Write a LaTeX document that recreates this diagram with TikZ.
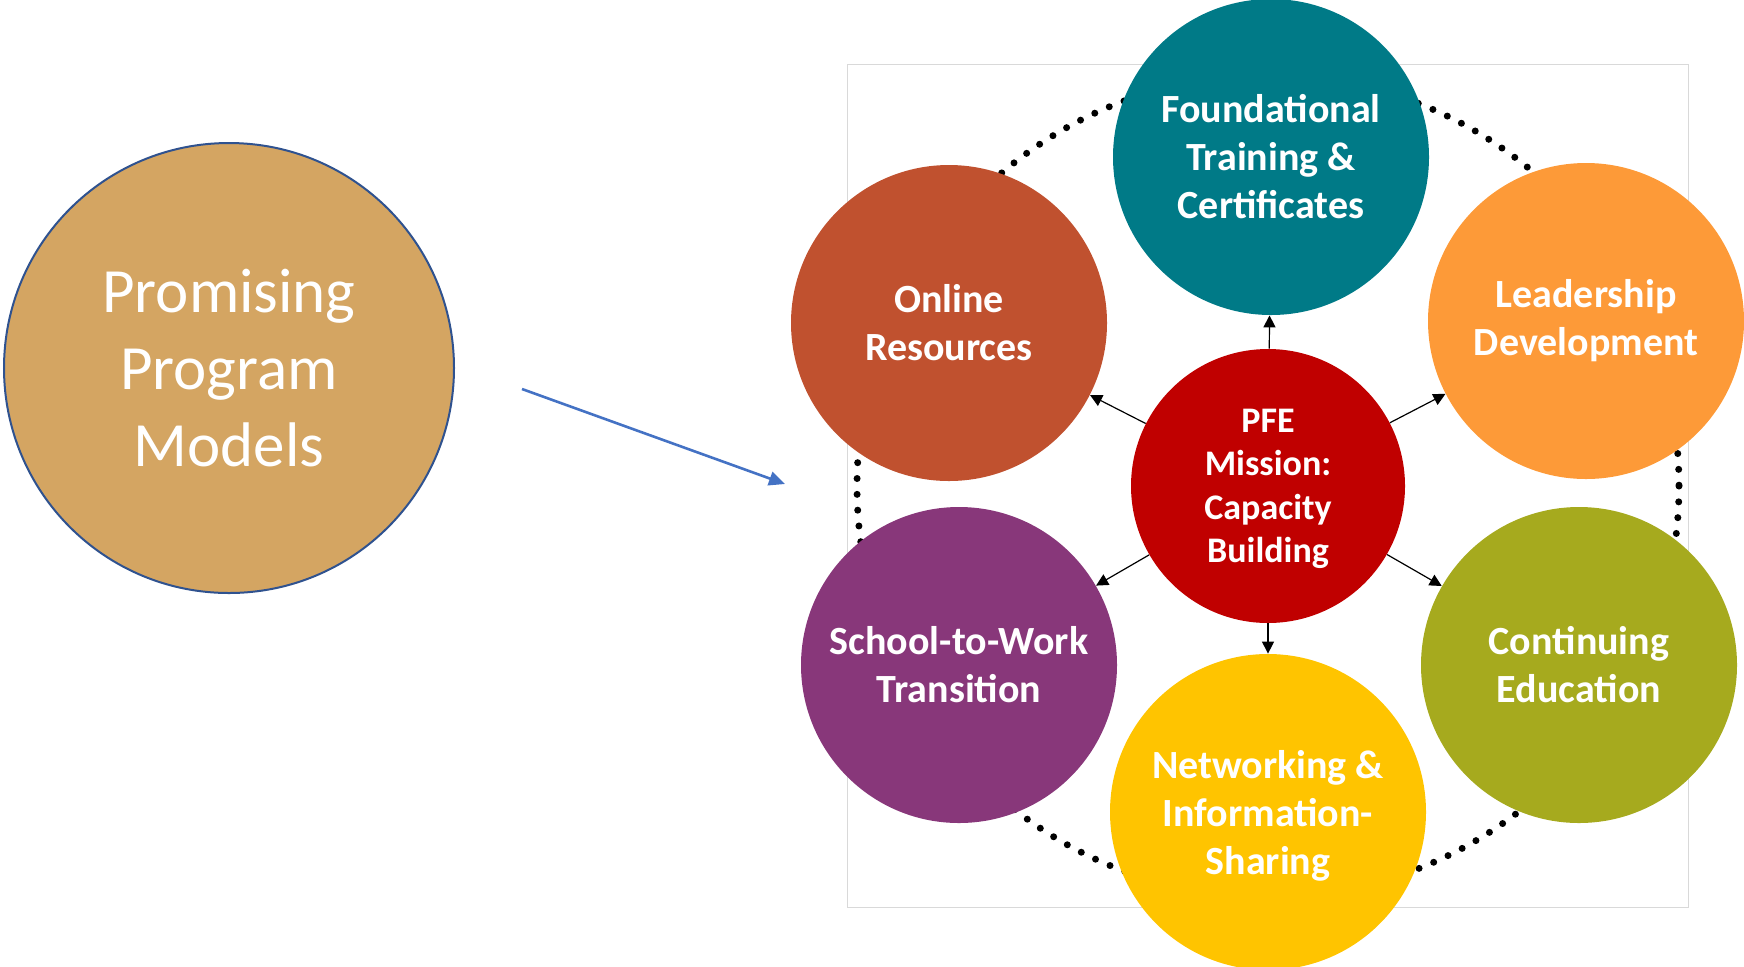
\documentclass[tikz,border=0pt]{standalone}
\usepackage{fontspec}
\setmainfont{Carlito}
\usetikzlibrary{arrows.meta}
\definecolor{gold}{RGB}{212,165,98}
\definecolor{goldrim}{RGB}{47,82,143}
\definecolor{teal}{RGB}{0,122,135}
\definecolor{rust}{RGB}{192,81,47}
\definecolor{amber}{RGB}{253,154,56}
\definecolor{crimson}{RGB}{192,0,0}
\definecolor{plum}{RGB}{136,55,122}
\definecolor{olive}{RGB}{166,170,30}
\definecolor{sun}{RGB}{255,196,0}
\definecolor{arrowblue}{RGB}{68,114,196}
\begin{document}
\begin{tikzpicture}[x=0.5pt,y=-0.5pt,
  model/.style={circle,fill=#1,text=white,align=center,inner sep=0pt,minimum size=158pt,
    font=\bfseries\fontsize{20}{24}\selectfont},
  mission/.style={circle,fill=crimson,text=white,align=center,inner sep=0pt,minimum size=137pt,
    font=\bfseries\fontsize{18}{21.7}\selectfont},
  spoke/.style={-{Triangle[length=6pt,width=6pt]},line width=0.6pt,black}]
\useasboundingbox (0,0) rectangle (1744,966);
\draw[gray!30,line width=0.5pt] (847,64) rectangle (1688,907);
\draw[line width=3.5pt,line cap=round,dash pattern=on 0pt off 7.92pt] (1268,486) circle [radius=411];
\node[circle,fill=gold,draw=goldrim,line width=1pt,minimum size=225pt,inner sep=0pt,text=white,align=center,
  font=\fontsize{31.5}{38.5}\selectfont] (promising) at (229,368) {Promising\\Program\\Models};
\node[mission,text depth=0pt] (pfe) at (1268,486) {PFE\\Mission:\\Capacity\\Building};
\node[model=teal] (found) at (1271,157) {Foundational\\Training \&\\Certificates};
\node[model=rust] (online) at (949,323) {Online\\Resources};
\node[model=amber] (lead) at (1586,321) {Leadership\\Development};
\node[model=plum] (school) at (959,665) {School-to-Work\\Transition};
\node[model=olive] (contin) at (1579,665) {Continuing\\Education};
\node[model=sun,text depth=0pt] (network) at (1268,812) {Networking \&\\Information-\\Sharing};
\foreach \target in {found,online,lead,school,contin,network}
  \draw[spoke] (pfe) -- (\target);
\coordinate (blue tail) at (522,389);
\coordinate (blue head) at (785,484);
\draw[arrowblue,line width=1.3pt,-{Triangle[length=8pt,width=7pt]}] (blue tail) -- (blue head);
\end{tikzpicture}
\end{document}
